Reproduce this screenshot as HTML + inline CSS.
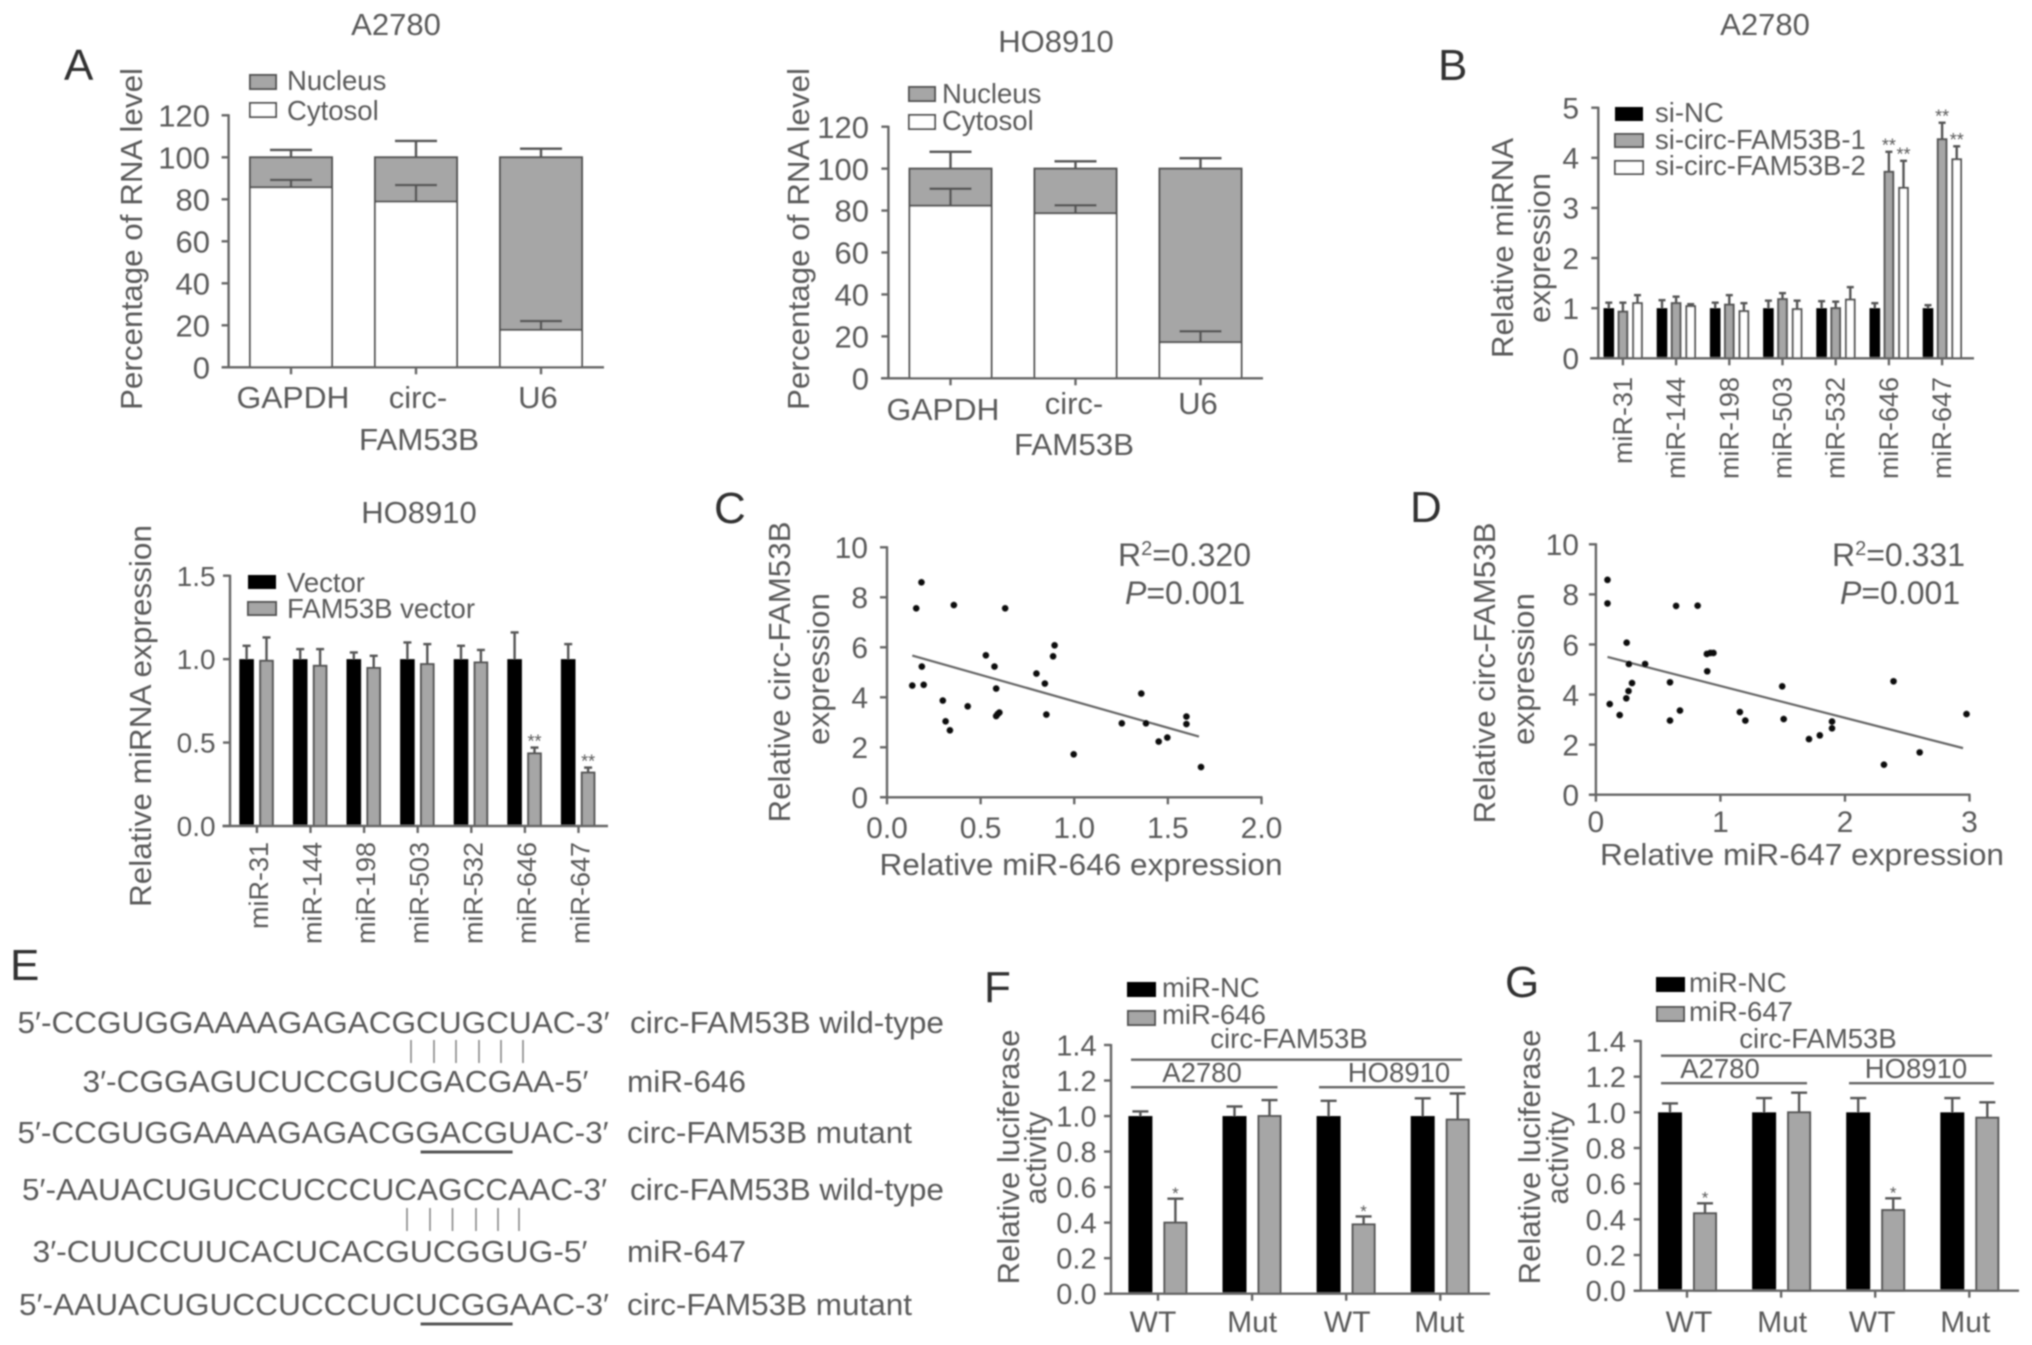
<!DOCTYPE html>
<html lang="en">
<head>
<meta charset="utf-8">
<title>circ-FAM53B miRNA figure</title>
<style>
html,body{margin:0;padding:0;background:#fff;}
svg{display:block;}
text{font-family:"Liberation Sans",Arial,sans-serif;fill:#5a5a5a;}
.panel-letter{font-size:44px;fill:#333;}
.title{font-size:31px;text-anchor:middle;}
.ax{font-size:31px;}
.stat{font-size:32px;}
.mid{text-anchor:middle;}
.leg{font-size:27.5px;}
.seq{font-size:31px;}
.lab{font-size:31px;}
</style>
</head>
<body>
<svg id="figure" xmlns="http://www.w3.org/2000/svg" width="2032" height="1345" viewBox="0 0 2032 1345">
<defs><filter id="soften" x="0" y="0" width="2032" height="1345" filterUnits="userSpaceOnUse" primitiveUnits="userSpaceOnUse"><feGaussianBlur stdDeviation="0.75"/></filter></defs>
<rect x="0" y="0" width="2032" height="1345" fill="#fff"/>
<g filter="url(#soften)">

<g id="pa1">
<text class="panel-letter" x="64" y="80">A</text>
<text class="title" x="396" y="35">A2780</text>
<text class="ax mid" transform="translate(142 239) rotate(-90)" textLength="342" lengthAdjust="spacingAndGlyphs">Percentage of RNA level</text>
<rect x="250" y="75" width="26" height="14" fill="#a6a6a6" stroke="#555" stroke-width="2"/>
<rect x="250" y="103" width="26" height="14" fill="#fff" stroke="#555" stroke-width="2"/>
<text class="leg" x="287" y="90">Nucleus</text>
<text class="leg" x="287" y="120">Cytosol</text>
<text class="ax mid" x="293" y="408" textLength="113" lengthAdjust="spacingAndGlyphs">GAPDH</text>
<text class="ax mid" x="418" y="408">circ-</text>
<text class="ax mid" x="538" y="408">U6</text>
<text class="ax mid" x="419" y="450" textLength="120" lengthAdjust="spacingAndGlyphs">FAM53B</text>
</g>

<g id="pa2">
<text class="title" x="1056" y="52">HO8910</text>
<text class="ax mid" transform="translate(809 239) rotate(-90)" textLength="342" lengthAdjust="spacingAndGlyphs">Percentage of RNA level</text>
<rect x="909" y="87" width="26" height="14" fill="#a6a6a6" stroke="#555" stroke-width="2"/>
<rect x="909" y="115" width="26" height="14" fill="#fff" stroke="#555" stroke-width="2"/>
<text class="leg" x="942" y="103">Nucleus</text>
<text class="leg" x="942" y="130">Cytosol</text>
<text class="ax mid" x="943" y="420" textLength="113" lengthAdjust="spacingAndGlyphs">GAPDH</text>
<text class="ax mid" x="1074" y="414">circ-</text>
<text class="ax mid" x="1198" y="414">U6</text>
<text class="ax mid" x="1074" y="455" textLength="120" lengthAdjust="spacingAndGlyphs">FAM53B</text>
</g>

<g id="pb">
<text class="panel-letter" x="1438" y="80">B</text>
<text class="title" x="1765" y="35">A2780</text>
<text class="ax mid" transform="translate(1513 248) rotate(-90)" textLength="220" lengthAdjust="spacingAndGlyphs">Relative miRNA</text>
<text class="ax mid" transform="translate(1550 248) rotate(-90)" textLength="150" lengthAdjust="spacingAndGlyphs">expression</text>
<rect x="1615" y="107" width="28" height="14" fill="#000"/>
<rect x="1615" y="134" width="28" height="13" fill="#a6a6a6" stroke="#555" stroke-width="2"/>
<rect x="1615" y="161" width="28" height="13" fill="#fff" stroke="#555" stroke-width="2"/>
<text class="leg" x="1655" y="122">si-NC</text>
<text class="leg" x="1655" y="149">si-circ-FAM53B-1</text>
<text class="leg" x="1655" y="175">si-circ-FAM53B-2</text>
</g>

<g id="pb2">
<text class="title" x="419" y="523">HO8910</text>
<text class="ax mid" transform="translate(151 716) rotate(-90)" textLength="382" lengthAdjust="spacingAndGlyphs">Relative miRNA expression</text>
<rect x="248" y="575" width="28" height="14" fill="#000"/>
<rect x="248" y="602" width="28" height="13" fill="#a6a6a6" stroke="#555" stroke-width="2"/>
<text class="leg" x="287" y="592">Vector</text>
<text class="leg" x="287" y="618">FAM53B vector</text>
</g>

<g id="pc">
<text class="panel-letter" x="714" y="523">C</text>
<text class="ax mid" transform="translate(790 672) rotate(-90)" textLength="301" lengthAdjust="spacingAndGlyphs">Relative circ-FAM53B</text>
<text class="ax mid" transform="translate(829 669) rotate(-90)" textLength="152" lengthAdjust="spacingAndGlyphs">expression</text>
<text class="ax mid" x="1081" y="875" textLength="403" lengthAdjust="spacingAndGlyphs">Relative miR-646 expression</text>
<text class="stat" x="1118" y="566">R<tspan dy="-11" font-size="20">2</tspan><tspan dy="11">=0.320</tspan></text>
<text class="stat" x="1125" y="604"><tspan font-style="italic">P</tspan>=0.001</text>
</g>

<g id="pd">
<text class="panel-letter" x="1410" y="522">D</text>
<text class="ax mid" transform="translate(1495 673) rotate(-90)" textLength="301" lengthAdjust="spacingAndGlyphs">Relative circ-FAM53B</text>
<text class="ax mid" transform="translate(1534 669) rotate(-90)" textLength="152" lengthAdjust="spacingAndGlyphs">expression</text>
<text class="ax mid" x="1802" y="865" textLength="404" lengthAdjust="spacingAndGlyphs">Relative miR-647 expression</text>
<text class="stat" x="1832" y="566">R<tspan dy="-11" font-size="20">2</tspan><tspan dy="11">=0.331</tspan></text>
<text class="stat" x="1840" y="604"><tspan font-style="italic">P</tspan>=0.001</text>
</g>

<g id="pe">
<text class="panel-letter" x="10" y="980">E</text>
<text class="seq" x="17.5" y="1033" textLength="592" lengthAdjust="spacingAndGlyphs">5′-CCGUGGAAAAGAGACGCUGCUAC-3′</text>
<text class="lab" x="630" y="1033" textLength="314" lengthAdjust="spacingAndGlyphs">circ-FAM53B wild-type</text>
<path d="M411 1040V1063M434 1040V1063M456 1040V1063M479 1040V1063M501 1040V1063M523 1040V1063" stroke="#888" stroke-width="1.6" fill="none"/>
<text class="seq" x="82.5" y="1092" textLength="506" lengthAdjust="spacingAndGlyphs">3′-CGGAGUCUCCGUCGACGAA-5′</text>
<text class="lab" x="627" y="1092" textLength="119" lengthAdjust="spacingAndGlyphs">miR-646</text>
<text class="seq" x="17.5" y="1143" textLength="591" lengthAdjust="spacingAndGlyphs">5′-CCGUGGAAAAGAGACGGACGUAC-3′</text>
<text class="lab" x="627" y="1143" textLength="285" lengthAdjust="spacingAndGlyphs">circ-FAM53B mutant</text>
<rect x="420.6" y="1150.5" width="92" height="3" fill="#555"/>
<text class="seq" x="22" y="1200" textLength="585" lengthAdjust="spacingAndGlyphs">5′-AAUACUGUCCUCCCUCAGCCAAC-3′</text>
<text class="lab" x="630" y="1200" textLength="314" lengthAdjust="spacingAndGlyphs">circ-FAM53B wild-type</text>
<path d="M407 1208V1231M430 1208V1231M452.5 1208V1231M476 1208V1231M498 1208V1231M519 1208V1231" stroke="#888" stroke-width="1.6" fill="none"/>
<text class="seq" x="32.5" y="1262" textLength="555" lengthAdjust="spacingAndGlyphs">3′-CUUCCUUCACUCACGUCGGUG-5′</text>
<text class="lab" x="627" y="1262" textLength="119" lengthAdjust="spacingAndGlyphs">miR-647</text>
<text class="seq" x="19" y="1315" textLength="590" lengthAdjust="spacingAndGlyphs">5′-AAUACUGUCCUCCCUCUCGGAAC-3′</text>
<text class="lab" x="627" y="1315" textLength="285" lengthAdjust="spacingAndGlyphs">circ-FAM53B mutant</text>
<rect x="420.6" y="1322.5" width="92" height="3" fill="#555"/>
</g>

<g id="pf">
<text class="panel-letter" x="984" y="1002">F</text>
<text class="ax mid" transform="translate(1019 1157) rotate(-90)" textLength="255" lengthAdjust="spacingAndGlyphs">Relative luciferase</text>
<text class="ax mid" transform="translate(1046 1158) rotate(-90)" textLength="93" lengthAdjust="spacingAndGlyphs">activity</text>
<rect x="1127" y="982" width="29" height="15" fill="#000"/>
<rect x="1128" y="1011" width="27" height="14" fill="#a6a6a6" stroke="#555" stroke-width="2"/>
<text class="leg" x="1162" y="997">miR-NC</text>
<text class="leg" x="1162" y="1024">miR-646</text>
<text class="leg mid" x="1289" y="1048">circ-FAM53B</text>
<rect x="1131" y="1058.5" width="331" height="2.4" fill="#666"/>
<text class="leg mid" x="1202" y="1082">A2780</text>
<text class="leg mid" x="1399" y="1082">HO8910</text>
<rect x="1131" y="1086" width="146.5" height="2.4" fill="#666"/>
<rect x="1319" y="1086" width="146" height="2.4" fill="#666"/>
</g>

<g id="pg">
<text class="panel-letter" x="1505" y="997">G</text>
<text class="ax mid" transform="translate(1540 1157) rotate(-90)" textLength="255" lengthAdjust="spacingAndGlyphs">Relative luciferase</text>
<text class="ax mid" transform="translate(1568 1158) rotate(-90)" textLength="93" lengthAdjust="spacingAndGlyphs">activity</text>
<rect x="1656" y="977" width="29" height="15" fill="#000"/>
<rect x="1657" y="1007" width="27" height="14" fill="#a6a6a6" stroke="#555" stroke-width="2"/>
<text class="leg" x="1689" y="992">miR-NC</text>
<text class="leg" x="1689" y="1021">miR-647</text>
<text class="leg mid" x="1818" y="1048">circ-FAM53B</text>
<rect x="1661" y="1054.5" width="331" height="2.4" fill="#666"/>
<text class="leg mid" x="1720" y="1078">A2780</text>
<text class="leg mid" x="1916" y="1078">HO8910</text>
<rect x="1661" y="1082" width="146" height="2.4" fill="#666"/>
<rect x="1849" y="1082" width="145" height="2.4" fill="#666"/>
</g>
</g>
</svg>

<script>
// ---- Panel A data ----
const A_TICKS = [0, 20, 40, 60, 80, 100, 120];
const A1_CYTOSOL = [85.7, 78.9, 17.8];
const A1_CYTOSOL_ERR = [89.2, 86.8, 22.0];
const A1_NUCLEUS = [14.3, 21.1, 82.2];
const A1_NUCLEUS_ERR = [103.5, 107.8, 104.1];
const A2_CYTOSOL = [82.3, 78.7, 17.2];
const A2_CYTOSOL_ERR = [90.4, 82.5, 22.4];
const A2_NUCLEUS = [17.7, 21.3, 82.8];
const A2_NUCLEUS_ERR = [108.0, 103.5, 105.0];

// ---- miRNA categories ----
const MIR_CATEGORIES = ['miR-31', 'miR-144', 'miR-198', 'miR-503', 'miR-532', 'miR-646', 'miR-647'];

// ---- Panel B (A2780) ----
const B_TICKS = [0, 1, 2, 3, 4, 5];
const B_SI_NC = [1, 1, 1, 1, 1, 1, 1];
const B_SI_1 = [0.93, 1.10, 1.07, 1.18, 1.00, 3.72, 4.37];
const B_SI_2 = [1.10, 1.04, 0.94, 0.98, 1.17, 3.40, 3.97];
const B_SI_NC_ERR = [1.11, 1.16, 1.11, 1.15, 1.14, 1.10, 1.06];
const B_SI_1_ERR = [1.11, 1.23, 1.26, 1.30, 1.13, 4.12, 4.70];
const B_SI_2_ERR = [1.26, 1.08, 1.10, 1.15, 1.42, 3.94, 4.23];
const B_SI_1_SIG = ['', '', '', '', '', '**', '**'];
const B_SI_2_SIG = ['', '', '', '', '', '**', '**'];

// ---- Panel B (HO8910) ----
const B2_TICKS = ['0.0', '0.5', '1.0', '1.5'];
const B2_VECTOR = [1, 1, 1, 1, 1, 1, 1];
const B2_FAM53B = [0.99, 0.96, 0.947, 0.97, 0.98, 0.435, 0.32];
const B2_VECTOR_ERR = [1.08, 1.06, 1.04, 1.10, 1.08, 1.16, 1.09];
const B2_FAM53B_ERR = [1.13, 1.06, 1.02, 1.09, 1.055, 0.47, 0.35];
const B2_FAM53B_SIG = ['', '', '', '', '', '**', '**'];

// ---- Panel C ----
const C_X_TICKS = ['0.0', '0.5', '1.0', '1.5', '2.0'];
const SCATTER_Y_TICKS = [0, 2, 4, 6, 8, 10];
const C_X = [0.135, 0.156, 0.184, 0.186, 0.196, 0.298, 0.313, 0.336, 0.357, 0.431, 0.528, 0.574, 0.583, 0.583, 0.591, 0.600, 0.631, 0.798, 0.843, 0.851, 0.887, 0.895, 0.997, 1.254, 1.358, 1.383, 1.451, 1.497, 1.599, 1.599, 1.677];
const C_Y = [4.47, 7.56, 8.60, 5.23, 4.50, 3.87, 3.04, 2.68, 7.69, 3.64, 5.68, 5.23, 4.35, 3.25, 3.33, 3.39, 7.56, 4.95, 4.55, 3.31, 5.64, 6.08, 1.72, 2.96, 4.15, 2.96, 2.23, 2.39, 3.23, 2.93, 1.21];
const C_TREND_X = [0.135, 1.666];
const C_TREND_Y = [5.67, 2.43];

// ---- Panel D ----
const D_X_TICKS = [0, 1, 2, 3];
const D_X = [0.093, 0.093, 0.111, 0.191, 0.244, 0.262, 0.290, 0.247, 0.265, 0.395, 0.595, 0.595, 0.644, 0.675, 0.817, 0.894, 0.891, 0.919, 0.944, 1.156, 1.200, 1.496, 1.508, 1.711, 1.798, 1.896, 1.896, 2.313, 2.390, 2.600, 2.976];
const D_Y = [8.58, 7.64, 3.62, 3.18, 3.85, 4.14, 4.46, 6.07, 5.22, 5.22, 4.49, 2.96, 7.54, 3.36, 7.55, 4.93, 5.62, 5.66, 5.66, 3.30, 2.96, 4.33, 3.02, 2.22, 2.37, 2.92, 2.65, 1.20, 4.53, 1.69, 3.22];
const D_TREND_X = [0.093, 2.948];
const D_TREND_Y = [5.50, 1.86];

// ---- Panels F / G ----
const LUC_CATEGORIES = ['WT', 'Mut', 'WT', 'Mut'];
const LUC_TICKS = ['0.0', '0.2', '0.4', '0.6', '0.8', '1.0', '1.2', '1.4'];
const F_NC = [1, 1, 1, 1];
const F_MIR = [0.40, 1.00, 0.39, 0.98];
const F_NC_ERR = [1.026, 1.054, 1.086, 1.10];
const F_MIR_ERR = [0.535, 1.09, 0.435, 1.127];
const F_SIG = ['*', '', '*', ''];
const G_NC = [1, 1, 1, 1];
const G_MIR = [0.434, 1.00, 0.452, 0.97];
const G_NC_ERR = [1.05, 1.08, 1.08, 1.08];
const G_MIR_ERR = [0.49, 1.11, 0.518, 1.056];
const G_SIG = ['*', '', '*', ''];

const NS = 'http://www.w3.org/2000/svg';
const AXIS = '#666';
const EDGE = '#555';

function add(parent, tag, name, attrs, content) {
  const el = document.createElementNS(NS, tag);
  for (const k in attrs) el.setAttribute(k, attrs[k]);
  
  
  if (content !== undefined) el.textContent = content;
  parent.appendChild(el);
  return el;
}
function hline(p, name, x1, x2, y, w, c) {
  return add(p, 'line', name, { x1: x1, x2: x2, y1: y, y2: y, stroke: c || AXIS, 'stroke-width': w || 2.4 });
}
function vline(p, name, x, y1, y2, w, c) {
  return add(p, 'line', name, { x1: x, x2: x, y1: y1, y2: y2, stroke: c || AXIS, 'stroke-width': w || 2.4 });
}

// Builds a linear value -> pixel scale
function linear(d0, d1, r0, r1) {
  return function (v) { return r0 + (v - d0) / (d1 - d0) * (r1 - r0); };
}

function yAxis(p, x, y, ticks, right, size) {
  vline(p, 'y-axis-line', x, y(Number(ticks[ticks.length - 1])) - 1, y(Number(ticks[0])));
  ticks.forEach(function (t) {
    const py = y(Number(t));
    hline(p, 'y-axis-tick', x - 7, x, py);
    add(p, 'text', 'y-tick-label', { x: right, y: py + size * 0.36, 'text-anchor': 'end', 'font-size': size }, String(t));
  });
}
function xTick(p, x, y0) {
  vline(p, 'x-axis-tick', x, y0, y0 + 7);
}
function bar(p, name, cx, w, y, v, base, fill) {
  const top = y(v), bot = y(base);
  const isBlack = fill === '#000';
  return add(p, 'rect', name, {
    x: cx - w / 2 + (isBlack ? 0 : 1), y: top, width: w - (isBlack ? 0 : 2), height: Math.max(0, bot - top),
    fill: fill, stroke: isBlack ? 'none' : EDGE, 'stroke-width': 2
  });
}
function errBar(p, name, cx, half, y, from, to) {
  vline(p, name + '-stem', cx, y(from), y(to), 2.4, EDGE);
  hline(p, name + '-cap', cx - half, cx + half, y(to), 2.4, EDGE);
}
function star(p, cx, cy, s, size) {
  if (!s) return;
  add(p, 'text', 'significance-marker', { x: cx, y: cy + size * 0.55, 'text-anchor': 'middle', 'font-size': size }, s);
}

// Stacked 100% charts (panel A)
function stacked(id, cfg, cyt, cytErr, nuc, nucErr) {
  const p = document.getElementById(id);
  const y = linear(0, 120, cfg.y0, cfg.yTop);
  yAxis(p, cfg.x0, y, A_TICKS, cfg.labelRight, 31);
  cyt.forEach(function (v, i) {
    const cx = cfg.first + i * cfg.step;
    bar(p, 'bar-nucleus', cx, cfg.w, y, v + nuc[i], v, '#a6a6a6');
    bar(p, 'bar-cytosol', cx, cfg.w, y, v, 0, '#fff');
    errBar(p, 'error-bar-nucleus', cx, 21, y, v + nuc[i], nucErr[i]);
    errBar(p, 'error-bar-cytosol', cx, 21, y, v, cytErr[i]);
    xTick(p, cx, cfg.y0);
  });
  hline(p, 'x-axis-line', cfg.xLeft, cfg.xRight, cfg.y0);
}
stacked('pa1', { x0: 228.6, y0: 367.3, yTop: 115.3, xLeft: 222, xRight: 604, first: 291, step: 125, w: 84, labelRight: 210 }, A1_CYTOSOL, A1_CYTOSOL_ERR, A1_NUCLEUS, A1_NUCLEUS_ERR);
stacked('pa2', { x0: 888.4, y0: 378.3, yTop: 126.7, xLeft: 881, xRight: 1263, first: 950.5, step: 125, w: 84, labelRight: 869 }, A2_CYTOSOL, A2_CYTOSOL_ERR, A2_NUCLEUS, A2_NUCLEUS_ERR);

// Rotated miRNA category labels
function mirLabels(p, centers, yEnd, offset, size) {
  MIR_CATEGORIES.forEach(function (c, i) {
    const x = centers(i) + offset;
    add(p, 'text', 'x-tick-label', { transform: 'translate(' + x + ' ' + yEnd + ') rotate(-90)', 'text-anchor': 'end', 'font-size': size }, c);
  });
}

// Panel B: three series
(function () {
  const p = document.getElementById('pb');
  const y = linear(0, 5, 358.3, 107.7);
  const cx = function (i) { return 1622.9 + i * 53.2; };
  yAxis(p, 1598.3, y, B_TICKS, 1579, 30);
  const series = [
    { name: 'si-nc', v: B_SI_NC, e: B_SI_NC_ERR, fill: '#000', off: -14.1 },
    { name: 'si-1', v: B_SI_1, e: B_SI_1_ERR, fill: '#a6a6a6', off: 0, sig: B_SI_1_SIG },
    { name: 'si-2', v: B_SI_2, e: B_SI_2_ERR, fill: '#fff', off: 14.6, sig: B_SI_2_SIG }
  ];
  series.forEach(function (s) {
    s.v.forEach(function (v, i) {
      const x = cx(i) + s.off;
      errBar(p, 'error-bar-' + s.name, x, 3.5, y, v, s.e[i]);
      bar(p, 'bar-' + s.name, x, 10.6, y, v, 0, s.fill);
      if (s.sig) star(p, x, y(s.e[i]) - 10, s.sig[i], 18);
    });
  });
  MIR_CATEGORIES.forEach(function (c, i) { xTick(p, cx(i), 358.3); });
  hline(p, 'x-axis-line', 1590, 1974, 358.3);
  mirLabels(p, cx, 377, 9, 27);
})();

// Panel B HO8910: two series
(function () {
  const p = document.getElementById('pb2');
  const y = linear(0, 1.5, 826, 575.7);
  const cx = function (i) { return 256.9 + i * 53.6; };
  yAxis(p, 230, y, B2_TICKS, 215.6, 28);
  B2_VECTOR.forEach(function (v, i) {
    const a = cx(i) - 10.3, b = cx(i) + 9.6;
    errBar(p, 'error-bar-vector', a, 4, y, v, B2_VECTOR_ERR[i]);
    bar(p, 'bar-vector', a, 14.6, y, v, 0, '#000');
    errBar(p, 'error-bar-fam53b', b, 4, y, B2_FAM53B[i], B2_FAM53B_ERR[i]);
    bar(p, 'bar-fam53b', b, 14.6, y, B2_FAM53B[i], 0, '#a6a6a6');
    star(p, b, y(B2_FAM53B_ERR[i]) - 10, B2_FAM53B_SIG[i], 18);
    xTick(p, cx(i), 826);
  });
  hline(p, 'x-axis-line', 222.5, 608, 826);
  mirLabels(p, cx, 842, 11, 27);
})();

// Scatter panels
function scatter(id, cfg, xs, ys, tx, ty, xTicks) {
  const p = document.getElementById(id);
  const x = linear(0, cfg.xMax, cfg.x0, cfg.x1);
  const y = linear(0, 10, cfg.y0, cfg.yTop);
  yAxis(p, cfg.x0, y, SCATTER_Y_TICKS, cfg.labelRight, 30);
  hline(p, 'x-axis-line', cfg.x0 - 7, cfg.x1 + 1, cfg.y0);
  xTicks.forEach(function (t) {
    const px = x(Number(t));
    xTick(p, px, cfg.y0);
    add(p, 'text', 'x-tick-label', { x: px, y: cfg.tickBase, 'text-anchor': 'middle', 'font-size': 30 }, String(t));
  });
  add(p, 'line', 'trend-line', { x1: x(tx[0]), y1: y(ty[0]), x2: x(tx[1]), y2: y(ty[1]), stroke: '#666', 'stroke-width': 2.2 });
  xs.forEach(function (v, i) {
    add(p, 'circle', 'data-point', { cx: x(v), cy: y(ys[i]), r: 3.3, fill: '#111' });
  });
}
scatter('pc', { x0: 887, x1: 1261.5, xMax: 2, y0: 797.3, yTop: 547.3, labelRight: 868, tickBase: 838 }, C_X, C_Y, C_TREND_X, C_TREND_Y, C_X_TICKS);
scatter('pd', { x0: 1595.9, x1: 1969.5, xMax: 3, y0: 794.7, yTop: 544.3, labelRight: 1579, tickBase: 832 }, D_X, D_Y, D_TREND_X, D_TREND_Y, D_X_TICKS);

// Luciferase panels
function luciferase(id, cfg, nc, mir, ncErr, mirErr, sig) {
  const p = document.getElementById(id);
  const y = linear(0, 1.4, cfg.y0, cfg.yTop);
  yAxis(p, cfg.x0, y, LUC_TICKS, cfg.labelRight, 29);
  LUC_CATEGORIES.forEach(function (c, i) {
    const cx = cfg.first + i * 94.1;
    const a = cx - cfg.offA, b = cx + cfg.offB;
    errBar(p, 'error-bar-mir-nc', a, 8, y, nc[i], ncErr[i]);
    bar(p, 'bar-mir-nc', a, 24, y, nc[i], 0, '#000');
    errBar(p, 'error-bar-mir', b, 8, y, mir[i], mirErr[i]);
    bar(p, 'bar-mir', b, 24, y, mir[i], 0, '#a6a6a6');
    star(p, b, y(mirErr[i]) - 9, sig[i], 17);
    xTick(p, cx, cfg.y0);
    add(p, 'text', 'x-tick-label', { x: cx + cfg.labelOff[i], y: 1332, 'text-anchor': 'middle', 'font-size': 30 }, c);
  });
  hline(p, 'x-axis-line', cfg.x0 - 7, cfg.xRight, cfg.y0);
}
luciferase('pf', { x0: 1111, y0: 1293.7, yTop: 1045, labelRight: 1096.6, first: 1158, offA: 17.6, offB: 17.4, xRight: 1490, labelOff: [-5, 0, 1, -1] }, F_NC, F_MIR, F_NC_ERR, F_MIR_ERR, F_SIG);
luciferase('pg', { x0: 1640.7, y0: 1290.7, yTop: 1041, labelRight: 1626, first: 1687, offA: 17, offB: 18, xRight: 2019, labelOff: [2, 1, -3, -4] }, G_NC, G_MIR, G_NC_ERR, G_MIR_ERR, G_SIG);
</script>
</body>
</html>
